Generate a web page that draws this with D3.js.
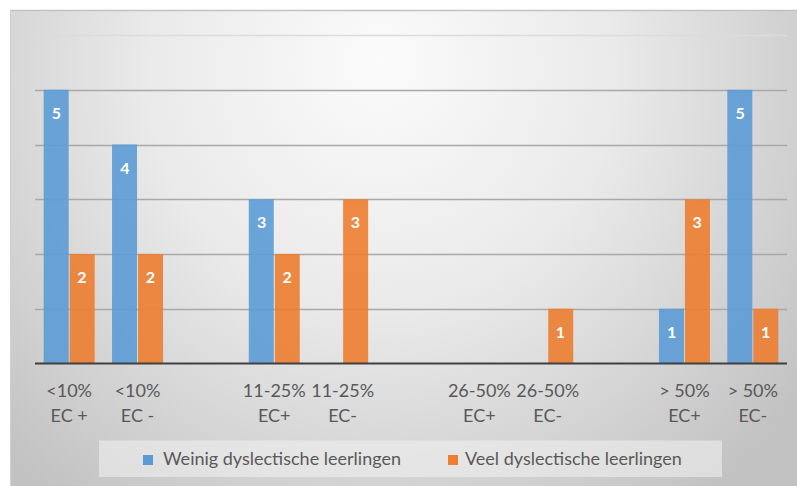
<!DOCTYPE html>
<html>
<head>
<meta charset="utf-8">
<script src="https://cdn.jsdelivr.net/npm/d3@7"></script>
<style>
  html, body { margin: 0; padding: 0; background: #ffffff; }
  svg { display: block; }
  text { font-family: Lato, "Open Sans", sans-serif; }
</style>
</head>
<body>
<svg id="chart" width="797" height="486"></svg>
<script>
// ---- data ----
const categoryLine1 = ["<10%", "<10%", "", "11-25%", "11-25%", "", "26-50%", "26-50%", "", "> 50%", "> 50%"];
const categoryLine2 = ["EC +", "EC -", "", "EC+", "EC-", "", "EC+", "EC-", "", "EC+", "EC-"];
const seriesNames = ["Weinig dyslectische leerlingen", "Veel dyslectische leerlingen"];
const weinig = [5, 4, 0, 3, 0, 0, 0, 0, 0, 1, 5];
const veel   = [2, 2, 0, 2, 3, 0, 0, 1, 0, 3, 1];
const yTicks = [0, 1, 2, 3, 4, 5, 6];
const colors = ["#5B9BD5", "#ED7D31"];

const svg = d3.select("#chart");
const W = 797, H = 486;

// ---- background ----
const defs = svg.append("defs");
const rg = defs.append("radialGradient").attr("id", "bg")
  .attr("gradientUnits", "userSpaceOnUse")
  .attr("cx", 380).attr("cy", 90).attr("r", 520)
  .attr("fx", 380).attr("fy", 60);
rg.append("stop").attr("offset", "0%").attr("stop-color", "#fbfbfb");
rg.append("stop").attr("offset", "45%").attr("stop-color", "#eaeaea");
rg.append("stop").attr("offset", "100%").attr("stop-color", "#c2c2c2");
svg.append("rect").attr("x", 10).attr("y", 10).attr("width", W - 10).attr("height", H - 10)
  .attr("fill", "url(#bg)");
svg.append("line").attr("x1", 10).attr("x2", W).attr("y1", 10.5).attr("y2", 10.5)
  .attr("stroke", "#c2c2c2").attr("stroke-width", 1.5);
svg.append("line").attr("x1", 10.5).attr("x2", 10.5).attr("y1", 10).attr("y2", H)
  .attr("stroke", "#cfcfcf").attr("stroke-width", 1);

// ---- scales ----
const idx = d3.range(categoryLine1.length);
const x = d3.scaleBand().domain(idx).range([35, 787]).paddingInner(0).paddingOuter(0);
const xs = d3.scaleBand().domain([0, 1]).range([0, x.bandwidth()]).paddingInner(0).paddingOuter(0.34);
const y = d3.scaleLinear().domain([0, 6]).range([363.5, 35]);

// ---- gridlines ----
svg.append("g").selectAll("line").data(yTicks.filter(t => t > 0)).join("line")
  .attr("x1", 35).attr("x2", 787)
  .attr("y1", d => Math.round(y(d)) + 0.5).attr("y2", d => Math.round(y(d)) + 0.5)
  .attr("stroke", d => d === 6 ? "#dcdcdc" : "#a9a9a9")
  .attr("stroke-width", 1.3);

// ---- bars ----
const barData = [];
idx.forEach(i => {
  [weinig, veel].forEach((arr, s) => {
    if (arr[i] > 0) barData.push({ i, s, v: arr[i] });
  });
});
const bars = svg.append("g");
bars.selectAll("rect").data(barData).join("rect")
  .attr("x", d => x(d.i) + xs(d.s) + (d.s === 1 ? 0.5 : 0))
  .attr("width", xs.bandwidth() - 0.5)
  .attr("y", d => y(d.v))
  .attr("height", d => y(0) - y(d.v))
  .attr("fill", d => colors[d.s])
  .attr("fill-opacity", 0.9);
bars.selectAll("text").data(barData).join("text")
  .attr("x", d => x(d.i) + xs(d.s) + xs.bandwidth() / 2)
  .attr("y", d => y(d.v) + 29)
  .attr("text-anchor", "middle")
  .attr("fill", "#ffffff")
  .attr("font-weight", "bold")
  .attr("font-size", "16px")
  .text(d => d.v);

// ---- x axis ----
svg.append("line").attr("x1", 35).attr("x2", 787).attr("y1", y(0)).attr("y2", y(0))
  .attr("stroke", "#404040").attr("stroke-width", 2.2);
const lab = svg.append("g").attr("fill", "#595959").attr("font-size", "18px");
lab.selectAll("text.l1").data(idx).join("text").attr("class", "l1")
  .attr("x", d => x(d) + x.bandwidth() / 2).attr("y", 397)
  .attr("text-anchor", "middle").text(d => categoryLine1[d]);
lab.selectAll("text.l2").data(idx).join("text").attr("class", "l2")
  .attr("x", d => x(d) + x.bandwidth() / 2).attr("y", 421.5)
  .attr("text-anchor", "middle").text(d => categoryLine2[d]);

// ---- legend ----
svg.append("rect").attr("x", 99).attr("y", 440.5).attr("width", 623).attr("height", 36.5)
  .attr("fill", "#f2f2f2").attr("fill-opacity", 0.55);
const legX = [143, 448];
const leg = svg.append("g").selectAll("g").data(seriesNames).join("g")
  .attr("transform", (d, i) => `translate(${legX[i]},0)`);
leg.append("rect").attr("x", 0).attr("y", 455).attr("width", 10).attr("height", 10)
  .attr("fill", (d, i) => colors[i]);
leg.append("text").attr("x", (d, i) => i === 0 ? 20 : 17).attr("y", 465)
  .attr("fill", "#595959").attr("font-size", "18px").text(d => d);
</script>
</body>
</html>
